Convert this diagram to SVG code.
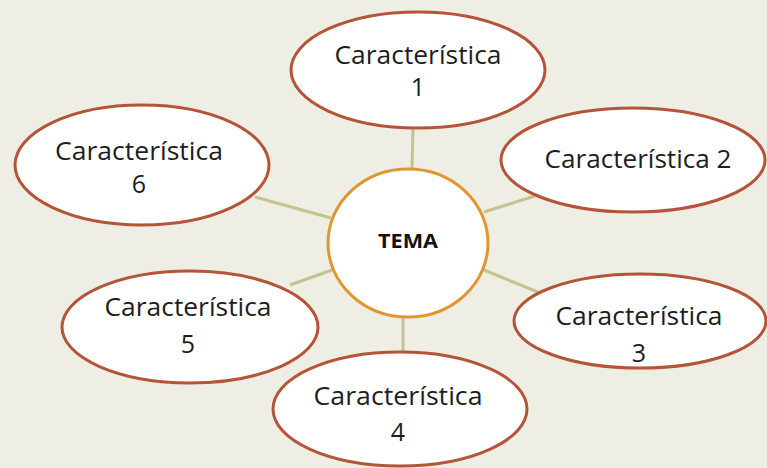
<svg xmlns="http://www.w3.org/2000/svg" width="767" height="468" viewBox="0 0 767 468">
<style>
.bg{fill:#efeee4}
.oval{fill:#ffffff;stroke:#b4553a;stroke-width:3}
.core{fill:#ffffff;stroke:#e0962e;stroke-width:3}
.link{stroke:#c3c390;stroke-width:3;fill:none}
.t{font-family:"Open Sans","Noto Sans",sans-serif;font-size:25px;fill:#1e1e1e;text-anchor:middle}
.tb{font-family:"Open Sans","Noto Sans",sans-serif;font-size:19px;font-weight:bold;fill:#111;text-anchor:middle}
</style>
<rect class="bg" x="0" y="0" width="767" height="468"/>
<g id="connectors">
<line class="link" x1="412" y1="169" x2="413" y2="127"/>
<line class="link" x1="484" y1="212" x2="535" y2="196"/>
<line class="link" x1="484" y1="270" x2="545" y2="295"/>
<line class="link" x1="403" y1="316" x2="403" y2="353"/>
<line class="link" x1="332" y1="270" x2="290" y2="285"/>
<line class="link" x1="331" y1="218" x2="255" y2="197"/>
</g>
<g id="tema">
<ellipse class="core" cx="408" cy="243" rx="80" ry="74"/>
<text class="tb" x="408" y="248" textLength="60" lengthAdjust="spacingAndGlyphs">TEMA</text>
</g>
<g id="c1">
<ellipse class="oval" cx="418" cy="70" rx="127" ry="58"/>
<text class="t" x="418" y="64" textLength="167" lengthAdjust="spacingAndGlyphs">Característica</text>
<text class="t" x="418" y="96">1</text>
</g>
<g id="c2">
<ellipse class="oval" cx="633" cy="160" rx="132" ry="52"/>
<text class="t" x="638" y="168" textLength="187" lengthAdjust="spacingAndGlyphs">Característica 2</text>
</g>
<g id="c3">
<ellipse class="oval" cx="640" cy="321" rx="126" ry="47"/>
<text class="t" x="639" y="325" textLength="167" lengthAdjust="spacingAndGlyphs">Característica</text>
<text class="t" x="639" y="362">3</text>
</g>
<g id="c4">
<ellipse class="oval" cx="400" cy="409" rx="127" ry="57"/>
<text class="t" x="398" y="405" textLength="169" lengthAdjust="spacingAndGlyphs">Característica</text>
<text class="t" x="398" y="441">4</text>
</g>
<g id="c5">
<ellipse class="oval" cx="190" cy="327" rx="128" ry="56"/>
<text class="t" x="188" y="316" textLength="167" lengthAdjust="spacingAndGlyphs">Característica</text>
<text class="t" x="188" y="353">5</text>
</g>
<g id="c6">
<ellipse class="oval" cx="142" cy="165" rx="127" ry="60"/>
<text class="t" x="139" y="160" textLength="168" lengthAdjust="spacingAndGlyphs">Característica</text>
<text class="t" x="139" y="193">6</text>
</g>
</svg>
